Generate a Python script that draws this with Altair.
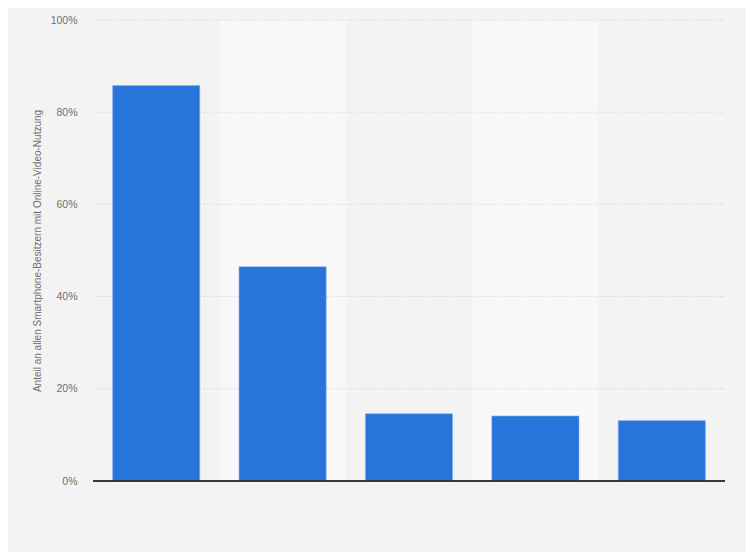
import altair as alt
import pandas as pd

categories = ["Kategorie 1", "Kategorie 2", "Kategorie 3", "Kategorie 4", "Kategorie 5"]
values = [85.8, 46.5, 14.6, 14.1, 13.1]
band_flags = [0, 1, 0, 1, 0]
grid_values = [20, 40, 60, 80, 100]
tick_values = [0, 20, 40, 60, 80, 100]
y_title = "Anteil an allen Smartphone-Besitzern mit Online-Video-Nutzung"

df = pd.DataFrame({"cat": categories, "val": values, "band": band_flags})
grid_df = pd.DataFrame({"g": grid_values})

yscale = alt.Scale(domain=[0, 100])

xenc = alt.X("cat:N", sort=categories,
             scale=alt.Scale(paddingInner=0, paddingOuter=0),
             axis=alt.Axis(labels=False, ticks=False, domain=False, title=None))

bands = alt.Chart(df).mark_rect().encode(
    x=xenc,
    y=alt.value(0),
    y2=alt.value(461),
    color=alt.Color("band:N", scale=alt.Scale(domain=[0, 1], range=["#f3f3f3", "#f8f8f8"]), legend=None),
)

grid = alt.Chart(grid_df).mark_rule(color="#cdcdcd", strokeDash=[1, 2], strokeWidth=1).encode(
    y=alt.Y("g:Q", scale=yscale),
    x=alt.value(0), x2=alt.value(632),
)

bars = alt.Chart(df).mark_bar(color="#2775db", stroke="#8fb6ec", strokeWidth=0.6,
                              width=alt.RelativeBandSize(0.69)).encode(
    x=xenc,
    y=alt.Y("val:Q", scale=yscale,
            axis=alt.Axis(values=tick_values,
                          labelExpr="datum.value + '%'",
                          title=y_title,
                          grid=False,
                          ticks=False, domain=False,
                          labelColor="#707070", labelFontSize=10.5, labelFont="Liberation Sans",
                          labelPadding=16,
                          titleColor="#707070", titleFontSize=10, titleFont="Liberation Sans",
                          titleFontWeight="normal", titlePadding=8)),
)

base_line = alt.Chart(df).mark_rule(color="#333333", strokeWidth=1).encode(
    x=alt.value(0), x2=alt.value(632), y=alt.value(461)
)

chart = alt.layer(bands, grid, bars, base_line).properties(
    width=632, height=461,
    background="#f3f3f3",
    padding={"left": 85, "top": 12, "right": 21, "bottom": 71},
    autosize=alt.AutoSizeParams(type="none"),
).configure_view(stroke=None)

chart.save("out.html", embed_options={"renderer": "svg", "actions": False})
